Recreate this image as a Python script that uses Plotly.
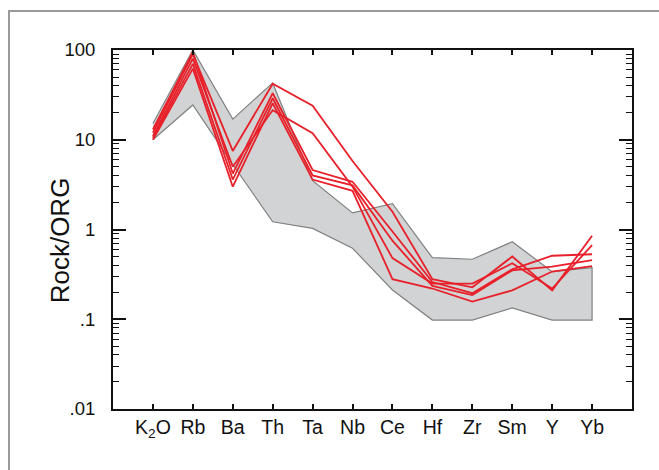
import plotly.graph_objects as go

# ---- data ----
elements = ["K<sub>2</sub>O", "Rb", "Ba", "Th", "Ta", "Nb", "Ce", "Hf", "Zr", "Sm", "Y", "Yb"]

org_upper = [15.2, 100, 17, 43, 3.5, 1.53, 1.94, 0.485, 0.466, 0.73, 0.339, 0.375]
org_lower = [10, 24.4, 5.3, 1.22, 1.03, 0.617, 0.212, 0.098, 0.098, 0.134, 0.098, 0.098]

sample_1 = [12, 90, 7.5, 42, 24, 5.8, 1.58, 0.28, 0.227, 0.50, 0.21, 0.85]
sample_2 = [11, 80, 5.0, 21.4, 11.8, 3.0, 0.48, 0.25, 0.25, 0.42, 0.22, 0.67]
sample_3 = [13, 95, 4.2, 33, 4.6, 3.4, 0.95, 0.26, 0.195, 0.36, 0.51, 0.53]
sample_4 = [10.5, 70, 3.6, 29, 4.0, 3.1, 0.75, 0.235, 0.186, 0.35, 0.385, 0.457]
sample_5 = [10, 62, 3.0, 25.5, 3.6, 2.7, 0.28, 0.22, 0.157, 0.21, 0.34, 0.39]
samples = [sample_1, sample_2, sample_3, sample_4, sample_5]

y_tickvals = [0.01, 0.1, 1, 10, 100]
y_ticktext = [".01", ".1", "1", "10", "100"]

FONT = "Liberation Sans, Arial, Helvetica, sans-serif"
RED = "#e8202a"

fig = go.Figure()

# ORG field (grey band)
fig.add_trace(go.Scatter(
    x=elements + elements[::-1],
    y=org_upper + org_lower[::-1],
    mode="lines",
    fill="toself",
    fillcolor="#d1d3d4",
    line=dict(color="#808080", width=1.2),
    hoverinfo="skip",
    showlegend=False,
))

for s in samples:
    fig.add_trace(go.Scatter(
        x=elements, y=s, mode="lines",
        line=dict(color=RED, width=1.8),
        showlegend=False,
    ))

minor_vals = [m * 10 ** e for e in range(-2, 2) for m in range(2, 10)]

fig.update_layout(
    width=659, height=470,
    margin=dict(l=113, r=27, t=50, b=61),
    paper_bgcolor="white", plot_bgcolor="white",
    font=dict(family=FONT, size=18, color="#111111"),
    showlegend=False,
)

fig.update_xaxes(
    type="category",
    categoryorder="array", categoryarray=elements,
    range=[-1, 12],
    showline=True, linecolor="#111111", linewidth=2,
    mirror="allticks",
    ticks="inside", ticklen=5, tickwidth=1.5, tickcolor="#111111",
    showgrid=False, zeroline=False,
    tickfont=dict(size=19.5, family=FONT),
    ticklabelstandoff=0,
)

fig.update_yaxes(
    type="log",
    range=[-2, 2],
    tickvals=y_tickvals, ticktext=y_ticktext,
    showline=True, linecolor="#111111", linewidth=2,
    mirror="allticks",
    ticks="inside", ticklen=13, tickwidth=1.5, tickcolor="#111111",
    minor=dict(ticks="inside", ticklen=6, tickwidth=1.2, tickcolor="#111111",
               tickvals=minor_vals, showgrid=False),
    showgrid=False, zeroline=False,
    tickfont=dict(size=18.5, family=FONT),
    ticklabelstandoff=12,
)

# y-axis title
fig.add_annotation(
    text="Rock/ORG", textangle=-90,
    xref="paper", yref="paper",
    x=-0.102, y=0.47, xanchor="center", yanchor="middle",
    showarrow=False,
    font=dict(size=26, family=FONT, color="#111111"),
)

# outer grey frame (extends beyond the canvas on the right and bottom)
fig.add_shape(
    type="rect", xref="paper", yref="paper",
    x0=(9 - 113) / 519, x1=1.2,
    y0=-0.3, y1=(409 - 11) / 359,
    line=dict(color="#9a9a9a", width=2),
    fillcolor="rgba(0,0,0,0)",
    layer="above",
)

fig.write_html("out.html")
